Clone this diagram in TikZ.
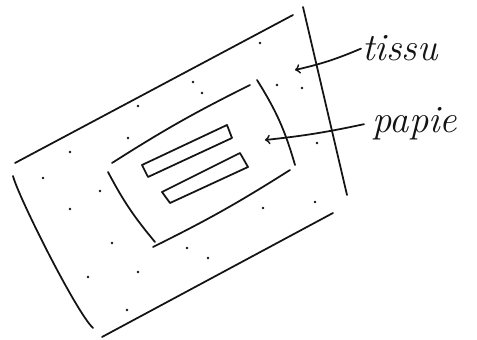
\documentclass[tikz,border=0pt]{standalone}
\usepackage{xcolor}
\usepackage{tikz}
\usetikzlibrary{shapes,arrows,positioning,calc}
\definecolor{inkblack}{RGB}{20, 20, 20}

\begin{document}
\begin{tikzpicture}[x=0.02cm, y=-0.02cm, >=to,
    pen/.style={line width=1pt, color=inkblack, line cap=round, line join=round},
    hand/.style={font=\fontsize{22}{22}\selectfont\itshape, color=inkblack, inner sep=0pt}]
    \useasboundingbox (0,0) rectangle (477,340);

    % tissu (outer piece)
    \draw[pen] (15,163) -- (293,15);
    \draw[pen] (303,7) -- (347,195);
    \draw[pen] (102,337) -- (333,213);
    \draw[pen] (13,176) .. controls (18,196) and (76,312) .. (93,328);

    % papier (inner piece)
    \draw[pen] (112,163) to[bend left=3] (250,85);
    \draw[pen] (257,80) to[bend left=8] (295,165);
    \draw[pen] (153,247) to[bend right=3] (290,170);
    \draw[pen] (108,172) to[bend right=6] (155,242);

    % the two strips
    \draw[pen] (142,165) -- (227,125) -- (232,138) -- (148,177) -- cycle;
    \draw[pen] (162,192) -- (240,153) -- (248,167) -- (170,203) -- cycle;

    % dots of the fabric
    \foreach \p in {(260,43),(193,82),(202,93),(138,106),(128,138),(70,152),
                    (43,178),(100,191),(70,209),(277,85),(302,88),(317,143),
                    (315,202),(263,208),(187,248),(208,258),(112,243),(88,277),
                    (138,272),(127,310)}
        \fill[inkblack] \p circle (1.4);

    % labels
    \node[hand, anchor=base west] (tissu) at (362,61) {tissu};
    \node[hand, anchor=base west] (papier) at (372,133) {papie};
    \coordinate (tissutip) at (295,70);
    \coordinate (papiertip) at (265,140);

    \draw[pen, ->] ($(tissu.west)+(-1,0)$) to[bend left=5] (tissutip);
    \draw[pen, ->] ($(papier.west)+(-8,0)$) to[bend left=3] (papiertip);
\end{tikzpicture}
\end{document}
